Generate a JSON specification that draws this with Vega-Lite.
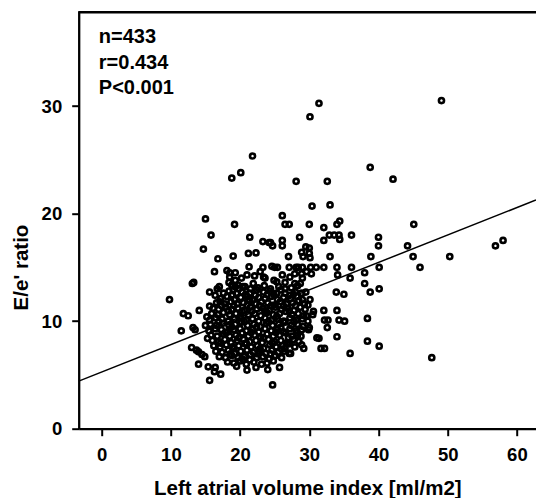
{
"$schema":"https://vega.github.io/schema/vega-lite/v6.json",
"width":457.3,"height":418,
"autosize":{"type":"none"},
"padding":{"left":78.7,"top":10.7,"right":0,"bottom":69.3},
"background":"white",
"config":{"view":{"stroke":null},"axis":{"grid":false,"labelFont":"Liberation Sans","titleFont":"Liberation Sans","labelFontWeight":"bold","titleFontWeight":"bold","labelColor":"black","titleColor":"black","domainColor":"black","tickColor":"black"}},
"datasets":{"pts":[
{"lavi":31.4,"ee":30.25},{"lavi":30.1,"ee":29.0},{"lavi":49.1,"ee":30.5},{"lavi":21.8,"ee":25.35},{"lavi":18.8,"ee":23.3},{"lavi":20.1,"ee":23.8},{"lavi":38.8,"ee":24.3},{"lavi":42.1,"ee":23.2},{"lavi":28.1,"ee":23.0},{"lavi":32.6,"ee":23.0},
{"lavi":30.4,"ee":20.7},{"lavi":33.0,"ee":20.8},{"lavi":26.1,"ee":19.8},{"lavi":26.5,"ee":19.0},{"lavi":27.1,"ee":19.0},{"lavi":30.0,"ee":19.0},{"lavi":32.1,"ee":18.7},{"lavi":34.0,"ee":19.0},{"lavi":34.4,"ee":19.3},{"lavi":15.0,"ee":19.5},
{"lavi":19.2,"ee":19.0},{"lavi":28.6,"ee":17.8},{"lavi":32.1,"ee":17.5},{"lavi":32.9,"ee":18.0},{"lavi":33.6,"ee":18.0},{"lavi":34.3,"ee":18.0},{"lavi":34.4,"ee":17.6},{"lavi":36.1,"ee":18.0},{"lavi":40.0,"ee":17.8},{"lavi":40.0,"ee":17.0},
{"lavi":45.1,"ee":19.0},{"lavi":44.2,"ee":17.0},{"lavi":56.9,"ee":17.0},{"lavi":58.0,"ee":17.5},{"lavi":26.1,"ee":17.5},{"lavi":26.1,"ee":17.0},{"lavi":24.2,"ee":17.3},{"lavi":29.5,"ee":16.9},{"lavi":30.0,"ee":16.8},{"lavi":38.9,"ee":16.0},
{"lavi":45.0,"ee":16.0},{"lavi":50.3,"ee":16.0},{"lavi":46.0,"ee":15.0},{"lavi":40.1,"ee":15.0},{"lavi":36.1,"ee":15.0},{"lavi":38.0,"ee":14.5},{"lavi":38.0,"ee":13.5},{"lavi":40.1,"ee":13.0},{"lavi":35.9,"ee":14.0},{"lavi":33.9,"ee":12.7},
{"lavi":35.0,"ee":12.5},{"lavi":38.8,"ee":12.7},{"lavi":32.1,"ee":11.0},{"lavi":34.0,"ee":11.0},{"lavi":32.2,"ee":10.1},{"lavi":32.7,"ee":10.1},{"lavi":34.3,"ee":10.1},{"lavi":35.1,"ee":10.0},{"lavi":32.6,"ee":9.4},{"lavi":38.4,"ee":10.25},
{"lavi":30.0,"ee":9.4},{"lavi":30.5,"ee":10.6},{"lavi":34.0,"ee":8.55},{"lavi":38.4,"ee":8.14},{"lavi":40.1,"ee":7.67},{"lavi":35.9,"ee":7.0},{"lavi":47.7,"ee":6.6},{"lavi":31.1,"ee":8.45},{"lavi":31.4,"ee":8.4},{"lavi":31.7,"ee":7.46},
{"lavi":32.2,"ee":7.46},{"lavi":29.2,"ee":7.46},{"lavi":28.8,"ee":8.6},{"lavi":24.7,"ee":4.07},{"lavi":25.7,"ee":5.7},{"lavi":25.0,"ee":6.77},{"lavi":33.0,"ee":16.0},{"lavi":32.1,"ee":15.0},{"lavi":34.0,"ee":15.0},{"lavi":34.1,"ee":14.3},
{"lavi":28.9,"ee":16.4},{"lavi":27.0,"ee":16.0},{"lavi":25.0,"ee":15.0},{"lavi":25.4,"ee":15.0},{"lavi":27.1,"ee":15.0},{"lavi":28.1,"ee":15.0},{"lavi":29.0,"ee":15.0},{"lavi":30.2,"ee":15.0},{"lavi":31.0,"ee":15.0},{"lavi":29.0,"ee":14.0},
{"lavi":29.5,"ee":12.7},{"lavi":30.1,"ee":12.0},{"lavi":21.4,"ee":17.8},{"lavi":23.3,"ee":17.4},{"lavi":24.4,"ee":17.3},{"lavi":24.7,"ee":17.0},{"lavi":21.2,"ee":16.3},{"lavi":22.3,"ee":16.35},{"lavi":29.1,"ee":16.0},{"lavi":30.1,"ee":15.9},
{"lavi":30.0,"ee":16.3},{"lavi":21.3,"ee":15.05},{"lavi":23.3,"ee":15.0},{"lavi":24.6,"ee":15.1},{"lavi":28.4,"ee":15.0},{"lavi":22.9,"ee":14.6},{"lavi":23.4,"ee":14.1},{"lavi":25.3,"ee":13.65},{"lavi":26.5,"ee":13.6},{"lavi":27.2,"ee":14.1},
{"lavi":27.9,"ee":14.4},{"lavi":28.9,"ee":14.4},{"lavi":29.6,"ee":14.6},{"lavi":30.3,"ee":14.4},{"lavi":27.9,"ee":13.5},{"lavi":28.7,"ee":13.5},{"lavi":25.3,"ee":12.6},{"lavi":26.5,"ee":12.6},{"lavi":27.2,"ee":12.4},{"lavi":30.6,"ee":10.9},
{"lavi":21.4,"ee":12.6},{"lavi":22.4,"ee":12.9},{"lavi":23.4,"ee":12.7},{"lavi":20.4,"ee":13.2},{"lavi":15.8,"ee":18.0},{"lavi":14.7,"ee":16.7},{"lavi":16.8,"ee":15.8},{"lavi":19.0,"ee":16.05},{"lavi":16.3,"ee":14.6},{"lavi":18.1,"ee":14.7},
{"lavi":18.5,"ee":14.5},{"lavi":19.3,"ee":14.5},{"lavi":13.1,"ee":13.5},{"lavi":13.3,"ee":13.6},{"lavi":16.7,"ee":13.0},{"lavi":15.6,"ee":12.7},{"lavi":9.8,"ee":12.0},{"lavi":11.8,"ee":10.7},{"lavi":12.5,"ee":10.5},{"lavi":14.1,"ee":11.0},
{"lavi":15.6,"ee":11.4},{"lavi":17.1,"ee":11.8},{"lavi":18.8,"ee":13.35},{"lavi":19.0,"ee":12.9},{"lavi":18.8,"ee":12.4},{"lavi":18.5,"ee":14.1},{"lavi":19.3,"ee":13.8},{"lavi":21.0,"ee":14.3},{"lavi":23.6,"ee":14.0},{"lavi":19.3,"ee":13.2},
{"lavi":19.7,"ee":13.35},{"lavi":11.5,"ee":9.1},{"lavi":13.2,"ee":9.4},{"lavi":13.5,"ee":9.2},{"lavi":13.0,"ee":7.55},{"lavi":13.7,"ee":7.3},{"lavi":14.5,"ee":6.9},{"lavi":14.9,"ee":6.7},{"lavi":14.0,"ee":6.0},{"lavi":15.4,"ee":5.75},
{"lavi":16.4,"ee":5.7},{"lavi":15.6,"ee":4.5},{"lavi":17.2,"ee":5.07},{"lavi":16.3,"ee":5.3},{"lavi":21.0,"ee":5.45},{"lavi":23.1,"ee":6.0},{"lavi":14.0,"ee":7.15},{"lavi":27.2,"ee":7.9},{"lavi":26.0,"ee":7.4},{"lavi":27.1,"ee":7.0},
{"lavi":21.4,"ee":6.4},
{"lavi":19.8,"ee":13.0},{"lavi":20.7,"ee":13.2},{"lavi":21.5,"ee":13.0},{"lavi":22.6,"ee":13.1},{"lavi":23.5,"ee":13.3},{"lavi":24.4,"ee":13.0},{"lavi":25.6,"ee":13.2},{"lavi":26.5,"ee":13.0},{"lavi":27.4,"ee":13.1},{"lavi":28.3,"ee":13.3},
{"lavi":17.6,"ee":12.6},{"lavi":18.4,"ee":12.8},{"lavi":19.5,"ee":12.6},{"lavi":20.3,"ee":12.7},{"lavi":24.3,"ee":12.8},{"lavi":25.9,"ee":12.9},{"lavi":28.0,"ee":12.7},{"lavi":28.9,"ee":12.6},
{"lavi":17.2,"ee":12.1},{"lavi":18.1,"ee":12.3},{"lavi":19.2,"ee":12.0},{"lavi":20.1,"ee":12.2},{"lavi":21.0,"ee":12.3},{"lavi":21.8,"ee":12.0},{"lavi":22.7,"ee":12.2},{"lavi":23.6,"ee":12.1},{"lavi":24.5,"ee":12.3},{"lavi":25.4,"ee":12.0},{"lavi":26.3,"ee":12.2},{"lavi":27.3,"ee":12.1},{"lavi":28.2,"ee":12.3},{"lavi":29.0,"ee":12.0},
{"lavi":16.6,"ee":11.7},{"lavi":17.8,"ee":11.6},{"lavi":18.7,"ee":11.8},{"lavi":19.6,"ee":11.6},{"lavi":20.5,"ee":11.7},{"lavi":21.4,"ee":11.9},{"lavi":22.3,"ee":11.6},{"lavi":23.1,"ee":11.8},{"lavi":24.0,"ee":11.7},{"lavi":24.9,"ee":11.5},{"lavi":25.8,"ee":11.8},{"lavi":26.7,"ee":11.6},{"lavi":27.6,"ee":11.7},{"lavi":28.5,"ee":11.9},{"lavi":29.3,"ee":11.6},
{"lavi":16.1,"ee":11.2},{"lavi":16.9,"ee":11.1},{"lavi":17.9,"ee":11.3},{"lavi":18.8,"ee":11.1},{"lavi":19.7,"ee":11.2},{"lavi":20.6,"ee":11.0},{"lavi":21.5,"ee":11.3},{"lavi":22.4,"ee":11.1},{"lavi":23.3,"ee":11.2},{"lavi":24.2,"ee":11.0},{"lavi":25.1,"ee":11.3},{"lavi":26.0,"ee":11.1},{"lavi":26.9,"ee":11.2},{"lavi":27.8,"ee":11.0},{"lavi":28.7,"ee":11.3},{"lavi":29.4,"ee":11.1},
{"lavi":15.9,"ee":10.7},{"lavi":16.8,"ee":10.6},{"lavi":17.6,"ee":10.8},{"lavi":18.5,"ee":10.6},{"lavi":19.4,"ee":10.7},{"lavi":20.3,"ee":10.9},{"lavi":21.2,"ee":10.6},{"lavi":22.1,"ee":10.7},{"lavi":23.0,"ee":10.5},{"lavi":23.9,"ee":10.8},{"lavi":24.8,"ee":10.6},{"lavi":25.7,"ee":10.7},{"lavi":26.6,"ee":10.9},{"lavi":27.5,"ee":10.6},{"lavi":28.4,"ee":10.7},{"lavi":29.2,"ee":10.5},
{"lavi":15.6,"ee":10.1},{"lavi":16.5,"ee":10.3},{"lavi":17.4,"ee":10.2},{"lavi":18.3,"ee":10.0},{"lavi":19.2,"ee":10.2},{"lavi":20.0,"ee":10.3},{"lavi":20.9,"ee":10.1},{"lavi":21.8,"ee":10.2},{"lavi":22.7,"ee":10.0},{"lavi":23.6,"ee":10.3},{"lavi":24.5,"ee":10.1},{"lavi":25.4,"ee":10.2},{"lavi":26.3,"ee":10.0},{"lavi":27.2,"ee":10.3},{"lavi":28.1,"ee":10.1},{"lavi":29.0,"ee":10.2},{"lavi":29.8,"ee":10.0},
{"lavi":15.7,"ee":9.7},{"lavi":16.6,"ee":9.6},{"lavi":17.5,"ee":9.8},{"lavi":18.4,"ee":9.6},{"lavi":19.3,"ee":9.7},{"lavi":20.2,"ee":9.9},{"lavi":21.1,"ee":9.6},{"lavi":22.0,"ee":9.7},{"lavi":22.9,"ee":9.5},{"lavi":23.8,"ee":9.8},{"lavi":24.7,"ee":9.6},{"lavi":25.6,"ee":9.7},{"lavi":26.5,"ee":9.9},{"lavi":27.4,"ee":9.6},{"lavi":28.3,"ee":9.7},{"lavi":29.1,"ee":9.5},
{"lavi":15.5,"ee":9.1},{"lavi":16.4,"ee":9.3},{"lavi":17.3,"ee":9.2},{"lavi":18.2,"ee":9.0},{"lavi":19.1,"ee":9.2},{"lavi":20.0,"ee":9.3},{"lavi":20.9,"ee":9.1},{"lavi":21.8,"ee":9.2},{"lavi":22.7,"ee":9.0},{"lavi":23.6,"ee":9.3},{"lavi":24.5,"ee":9.1},{"lavi":25.4,"ee":9.2},{"lavi":26.3,"ee":9.0},{"lavi":27.2,"ee":9.3},{"lavi":28.1,"ee":9.1},{"lavi":28.9,"ee":9.2},
{"lavi":15.8,"ee":8.7},{"lavi":16.7,"ee":8.6},{"lavi":17.6,"ee":8.8},{"lavi":18.5,"ee":8.6},{"lavi":19.4,"ee":8.7},{"lavi":20.3,"ee":8.9},{"lavi":21.2,"ee":8.6},{"lavi":22.1,"ee":8.7},{"lavi":23.0,"ee":8.5},{"lavi":23.9,"ee":8.8},{"lavi":24.8,"ee":8.6},{"lavi":25.7,"ee":8.7},{"lavi":26.6,"ee":8.9},{"lavi":27.5,"ee":8.6},{"lavi":28.3,"ee":8.7},
{"lavi":16.0,"ee":8.2},{"lavi":16.9,"ee":8.1},{"lavi":17.8,"ee":8.3},{"lavi":18.7,"ee":8.0},{"lavi":19.6,"ee":8.2},{"lavi":20.5,"ee":8.3},{"lavi":21.4,"ee":8.1},{"lavi":22.3,"ee":8.2},{"lavi":23.2,"ee":8.0},{"lavi":24.1,"ee":8.3},{"lavi":25.0,"ee":8.1},{"lavi":25.9,"ee":8.2},{"lavi":26.8,"ee":8.0},{"lavi":27.7,"ee":8.3},{"lavi":28.5,"ee":8.1},
{"lavi":16.2,"ee":7.7},{"lavi":17.1,"ee":7.6},{"lavi":18.0,"ee":7.8},{"lavi":18.9,"ee":7.6},{"lavi":19.8,"ee":7.7},{"lavi":20.7,"ee":7.9},{"lavi":21.6,"ee":7.6},{"lavi":22.5,"ee":7.7},{"lavi":23.4,"ee":7.5},{"lavi":24.3,"ee":7.8},{"lavi":25.2,"ee":7.6},{"lavi":26.1,"ee":7.7},{"lavi":27.0,"ee":7.9},{"lavi":27.9,"ee":7.6},
{"lavi":16.5,"ee":7.2},{"lavi":17.4,"ee":7.1},{"lavi":18.3,"ee":7.3},{"lavi":19.2,"ee":7.0},{"lavi":20.1,"ee":7.2},{"lavi":21.0,"ee":7.3},{"lavi":21.9,"ee":7.1},{"lavi":22.8,"ee":7.2},{"lavi":23.7,"ee":7.0},{"lavi":24.6,"ee":7.3},{"lavi":25.5,"ee":7.1},{"lavi":26.4,"ee":7.2},{"lavi":27.3,"ee":7.0},
{"lavi":17.0,"ee":6.7},{"lavi":17.9,"ee":6.6},{"lavi":18.8,"ee":6.8},{"lavi":19.7,"ee":6.6},{"lavi":20.6,"ee":6.7},{"lavi":21.5,"ee":6.9},{"lavi":22.4,"ee":6.6},{"lavi":23.3,"ee":6.7},{"lavi":24.2,"ee":6.5},{"lavi":25.1,"ee":6.8},{"lavi":26.0,"ee":6.6},
{"lavi":18.2,"ee":6.2},{"lavi":19.1,"ee":6.1},{"lavi":20.0,"ee":6.3},{"lavi":20.9,"ee":6.0},{"lavi":22.0,"ee":6.2},{"lavi":23.9,"ee":6.1},{"lavi":24.8,"ee":6.3},
{"lavi":19.5,"ee":5.8},{"lavi":22.3,"ee":5.7},{"lavi":24.0,"ee":5.5},
{"lavi":18.9,"ee":12.45},{"lavi":20.8,"ee":12.5},{"lavi":22.2,"ee":12.4},{"lavi":24.9,"ee":12.45},{"lavi":17.3,"ee":11.45},{"lavi":19.1,"ee":11.45},{"lavi":21.0,"ee":11.5},{"lavi":22.8,"ee":11.45},{"lavi":24.5,"ee":11.45},{"lavi":26.3,"ee":11.4},
{"lavi":28.0,"ee":11.45},{"lavi":18.3,"ee":10.95},{"lavi":20.1,"ee":10.45},{"lavi":21.7,"ee":10.95},{"lavi":23.6,"ee":10.95},{"lavi":25.3,"ee":10.45},{"lavi":27.1,"ee":10.95},{"lavi":16.9,"ee":9.95},{"lavi":18.8,"ee":9.45},{"lavi":20.6,"ee":9.95},
{"lavi":22.4,"ee":9.45},{"lavi":24.1,"ee":9.95},{"lavi":25.9,"ee":9.45},{"lavi":27.8,"ee":9.95},{"lavi":17.9,"ee":8.95},{"lavi":19.8,"ee":8.45},{"lavi":21.6,"ee":8.95},{"lavi":23.4,"ee":8.45},{"lavi":25.2,"ee":8.95},{"lavi":27.0,"ee":8.45},
{"lavi":17.2,"ee":7.95},{"lavi":19.1,"ee":7.45},{"lavi":20.9,"ee":7.95},{"lavi":22.9,"ee":7.45},{"lavi":24.7,"ee":7.95},{"lavi":26.5,"ee":7.45},{"lavi":18.6,"ee":6.95},{"lavi":20.4,"ee":6.45},{"lavi":22.6,"ee":6.95},{"lavi":24.4,"ee":6.95},
{"lavi":21.2,"ee":12.0},{"lavi":23.9,"ee":12.45},{"lavi":27.7,"ee":12.5},{"lavi":29.6,"ee":10.5},{"lavi":29.9,"ee":9.2},{"lavi":15.2,"ee":10.4},{"lavi":15.0,"ee":9.6},{"lavi":15.3,"ee":8.4},{"lavi":16.4,"ee":12.4},{"lavi":17.0,"ee":13.2},
{"lavi":18.4,"ee":13.6},{"lavi":21.9,"ee":13.5},{"lavi":24.9,"ee":13.8},{"lavi":26.1,"ee":14.3},{"lavi":20.2,"ee":14.0},{"lavi":22.1,"ee":14.2},{"lavi":28.2,"ee":8.9},{"lavi":29.8,"ee":11.5},{"lavi":28.9,"ee":7.8}
]},
"layer":[
{"data":{"name":"pts"},
 "mark":{"type":"point","shape":"circle","filled":false,"stroke":"black","strokeWidth":2.6,"size":26,"opacity":1,"strokeOpacity":1},
 "encoding":{
  "x":{"field":"lavi","type":"quantitative","scale":{"domain":[-3.32,62.76],"nice":false,"zero":false},
   "axis":{"values":[0,10,20,30,40,50,60],"title":"Left atrial volume index [ml/m2]","domainWidth":2.3,"tickWidth":2,"tickSize":7,"labelFontSize":18.5,"labelBaseline":"alphabetic","labelPadding":24.3,"labelFlush":false,"titleFontSize":20.5,"titleY":65.3,"titleBaseline":"alphabetic"}},
  "y":{"field":"ee","type":"quantitative","scale":{"domain":[0,38.86],"nice":false},
   "axis":{"values":[0,10,20,30],"title":"E/e' ratio","domainWidth":2.3,"tickWidth":2,"tickSize":7,"labelFontSize":18.5,"labelPadding":10,"labelBaseline":"middle","labelFlush":false,"titleFontSize":20.5,"titleX":-50.7,"titleY":256.3,"titleAngle":-90,"titleAlign":"center","titleBaseline":"alphabetic"}}
 }},
{"data":{"values":[{"lavi":-3.32,"ee":4.42},{"lavi":62.76,"ee":21.26}]},
 "mark":{"type":"line","color":"black","strokeWidth":1.5,"clip":true},
 "encoding":{
  "x":{"field":"lavi","type":"quantitative"},
  "y":{"field":"ee","type":"quantitative"}
 }},
{"data":{"values":[{"lavi":-3.32,"ee":38.72},{"lavi":62.76,"ee":38.72}]},
 "mark":{"type":"line","color":"black","strokeWidth":2.6},
 "encoding":{
  "x":{"field":"lavi","type":"quantitative"},
  "y":{"field":"ee","type":"quantitative"}
 }},
{"data":{"values":[{}]},
 "mark":{"type":"text","text":["n=433","r=0.434","P<0.001"],"font":"Liberation Sans","fontWeight":"bold","fontSize":20,"align":"left","baseline":"alphabetic","lineHeight":25.3,"color":"black"},
 "encoding":{"x":{"datum":-0.41,"type":"quantitative"},"y":{"datum":35.83,"type":"quantitative"}}}
]
}
